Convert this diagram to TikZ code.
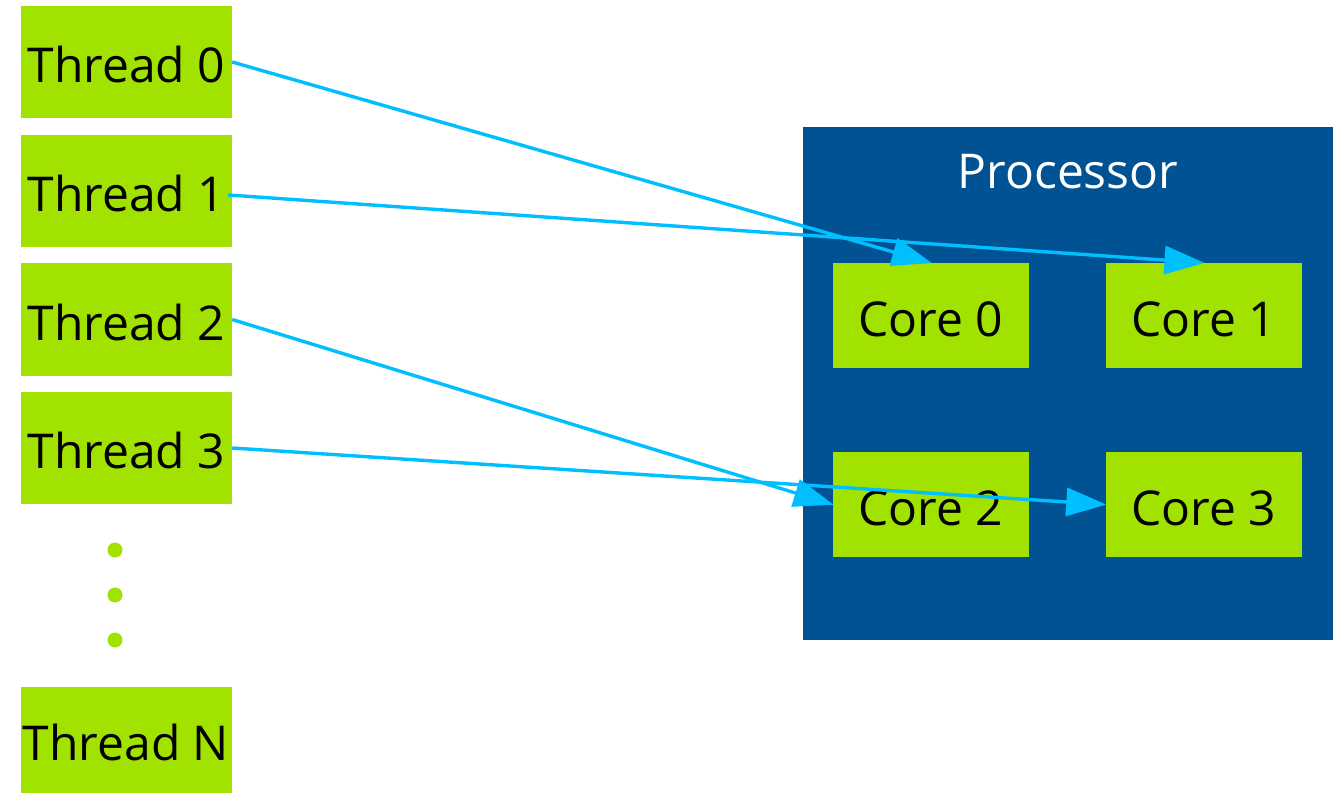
\documentclass[tikz,border=0pt]{standalone}
\usepackage{fontspec}
\setmainfont{Open Sans}
\usetikzlibrary{arrows.meta}
\definecolor{thgreen}{RGB}{161,226,0}
\definecolor{procblue}{RGB}{0,82,147}
\definecolor{arrowblue}{RGB}{0,191,255}
\begin{document}
\begin{tikzpicture}[x=1pt,y=-1pt,
  greenbox/.style={fill=thgreen, inner sep=0pt, font=\fontsize{48}{52}\selectfont, text=black, text height=41pt, text depth=0pt},
  thread/.style={greenbox, minimum width=211pt, minimum height=112pt},
  corebox/.style={greenbox, minimum width=196pt, minimum height=105pt},
  link/.style={draw=arrowblue, line width=3.4pt, -{Triangle[length=40pt,width=28pt]}, shorten >=-1pt},
  dot/.style={circle, fill=thgreen, inner sep=0pt, minimum size=15pt}]
\useasboundingbox (0,0) rectangle (1333,794);
% threads
\node[thread] (t0) at (126.5,62) {Thread 0};
\node[thread] (t1) at (126.5,191) {Thread 1};
\node[thread] (t2) at (126.5,319.5) {Thread 2};
\node[thread] (t3) at (126.5,448) {Thread 3};
\node[thread, minimum height=106pt] (tn) at (126,740) {Thread N};
\node[dot] (d1) at (115,550) {};
\node[dot] (d2) at (115,595) {};
\node[dot] (d3) at (115,640) {};
% processor
\node[fill=procblue, minimum width=530pt, minimum height=513pt, inner sep=0pt] (proc) at (1068,383.5) {};
\node[text=white, font=\fontsize{48}{52}\selectfont, anchor=center] (plabel) at (1068,172) {Processor};
\node[corebox] (c0) at (931,315.5) {Core 0};
\node[corebox] (c1) at (1203.5,315.5) {Core 1};
\node[corebox] (c2) at (931,504.5) {Core 2};
\node[corebox] (c3) at (1203.5,504.5) {Core 3};
% links
\draw[link] (t0.east) -- (c0.north);
\draw[link] ([xshift=-4pt,yshift=-4pt]t1.east) -- (c1.north);
\draw[link] (t2.east) -- (c2.west);
\draw[link] (t3.east) -- (c3.west);
\end{tikzpicture}
\end{document}
